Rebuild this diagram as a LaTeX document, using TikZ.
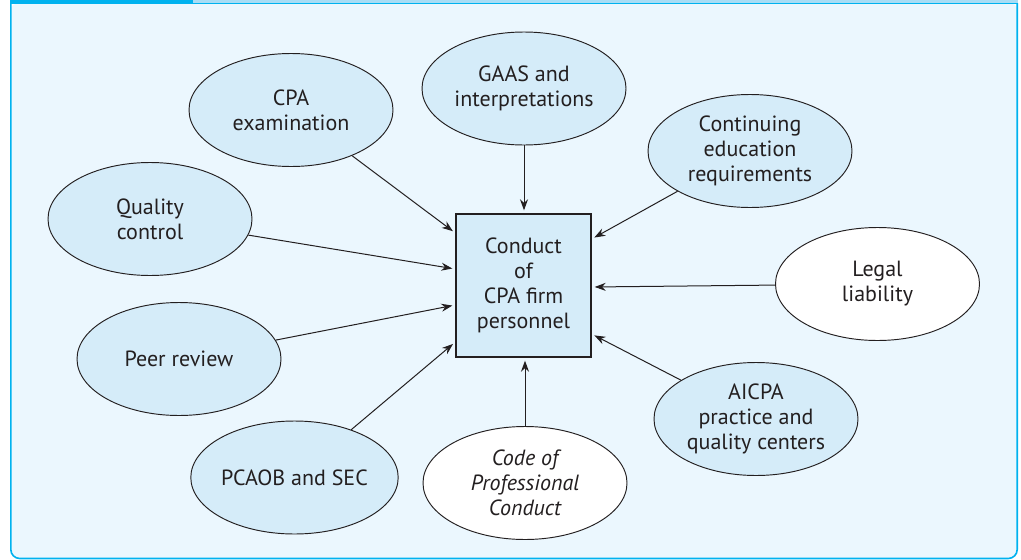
\documentclass[tikz,border=0pt]{standalone}
\usepackage{fontspec}
\setmainfont{PT Sans}
\usetikzlibrary{shapes.geometric,arrows.meta,calc}
\definecolor{bgblue}{HTML}{EBF7FE}
\definecolor{fillblue}{HTML}{D5ECF9}
\definecolor{framecyan}{HTML}{00B2EF}
\definecolor{lightcyan}{HTML}{A8DDF5}
\definecolor{ink}{HTML}{231F20}
\tikzset{
  bubble/.style={ellipse, draw=ink, line width=0.95pt, fill=fillblue,
    minimum width=204pt, minimum height=113pt, inner sep=0pt, align=center,
    text=ink, font=\fontsize{22}{25}\selectfont},
  whitebubble/.style={bubble, fill=white},
  centerbox/.style={rectangle, draw=ink, line width=1.4pt, fill=fillblue,
    minimum width=135pt, minimum height=143pt, inner sep=0pt, align=center,
    text=ink, font=\fontsize{22}{25}\selectfont},
  arr/.style={draw=ink, line width=1pt, -{Stealth[length=11pt,width=8pt]}, shorten >=3pt}
}
\begin{document}
\begin{tikzpicture}[x=1pt,y=-1pt]
\useasboundingbox (0,0) rectangle (1021,560);
% frame
\fill[bgblue, rounded corners=9pt] (10,3) -- (10,559) -- (1018,559) -- (1018,3) -- cycle;
\draw[framecyan, line width=1.6pt, rounded corners=9pt] (10.8,3) -- (10.8,558.5) -- (1017.2,558.5) -- (1017.2,3);
\fill[lightcyan] (193,0) rectangle (1018,3);
\draw[framecyan, line width=0.8pt] (193,3.2) -- (1018,3.2);
\fill[framecyan] (10,0) rectangle (193,3.6);
% center box
\node[centerbox] (box) at (523.5,285.5) {Conduct\\of\\CPA firm\\personnel};
% bubbles
\node[bubble] (gaas) at (524,88.5) {GAAS and\\interpretations};
\node[bubble] (cpa) at (291,110) {CPA\\examination};
\node[bubble] (cont) at (750,151) {Continuing\\education\\requirements};
\node[bubble] (qual) at (150,219) {Quality\\control};
\node[whitebubble] (legal) at (877.5,284) {Legal\\liability};
\node[bubble] (peer) at (179,359) {Peer review};
\node[bubble] (aicpa) at (756,419) {AICPA\\practice and\\quality centers};
\node[bubble] (pcaob) at (294.5,477.5) {PCAOB and SEC};
\node[whitebubble, font=\fontsize{22}{25}\selectfont\itshape] (code) at (525,483) {Code of\\Professional\\Conduct};
% target points on box
\coordinate (l1) at (box.west |- 0,233);
\coordinate (l2) at (box.west |- 0,269);
\coordinate (l3) at (box.west |- 0,305);
\coordinate (l4) at (box.west |- 0,342);
\coordinate (r1) at (box.east |- 0,239);
\coordinate (r2) at (box.east |- 0,287);
\coordinate (r3) at (box.east |- 0,334);
% arrows
\draw[arr] (gaas.south) -- (gaas.south |- box.north);
\draw[arr] (cpa) -- (l1);
\draw[arr] (qual) -- (l2);
\draw[arr] (peer) -- (l3);
\draw[arr] (pcaob) -- (l4);
\draw[arr] (code.north) -- (code.north |- box.south);
\draw[arr] (cont) -- (r1);
\draw[arr] (legal) -- (r2);
\draw[arr] (aicpa) -- (r3);
\end{tikzpicture}
\end{document}
